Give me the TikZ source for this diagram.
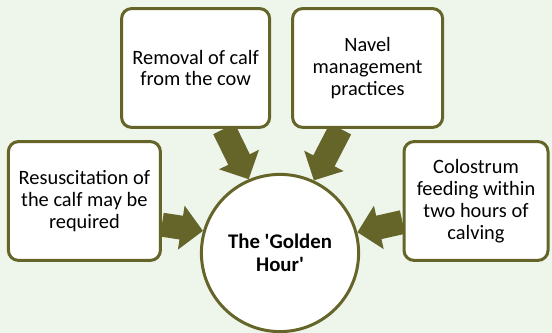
\documentclass[tikz,border=0pt]{standalone}
\usepackage{fontspec}
\setmainfont{Carlito}
\usepackage{tikz}
\usetikzlibrary{positioning, arrows.meta}
\definecolor{olivebar}{HTML}{65652A}
\definecolor{paleback}{HTML}{EEF6EC}
\pgfdeclarelayer{back}
\pgfsetlayers{back,main}

\begin{document}
\begin{tikzpicture}[
    stepbox/.style={rectangle, rounded corners=0.25cm, draw=olivebar, line width=0.075cm, fill=white, align=center, minimum height=2.97cm, font=\fontsize{14.5}{15.6}\selectfont},
    hub/.style={circle, draw=olivebar, line width=0.075cm, fill=white, align=center, minimum size=3.93cm, font=\fontsize{14.8}{16.4}\selectfont\bfseries},
    feed/.style={draw=olivebar, line width=0.6cm, -{Triangle[length=0.55cm, width=1.08cm]}}
]
\begin{pgfonlayer}{back}
\fill[paleback] (0, 0) rectangle (13.8, 8.325);
\end{pgfonlayer}
\useasboundingbox (0, 0) rectangle (13.8, 8.325);

\node[stepbox, minimum width=3.7cm] (removal) at (4.89, 6.625) {Removal of calf\\from the cow};
\node[stepbox, minimum width=3.75cm] (navel) at (9.19, 6.625) {Navel\\management\\practices};
\node[stepbox, minimum width=3.8cm] (resus) at (2.11, 3.3) {Resuscitation of\\the calf may be\\required};
\node[stepbox, minimum width=3.6cm] (colostrum) at (11.9, 3.3) {Colostrum\\feeding within\\two hours of\\calving};
\node[hub] (golden) at (7.0, 2.0) {The \textquotesingle Golden\\Hour\textquotesingle};

\begin{pgfonlayer}{back}
\draw[feed] (removal.-65) -- (golden.113);
\draw[feed] (navel.-114) -- (golden.65);
\draw[feed] (resus.-17) -- (golden.164);
\draw[feed] (colostrum.196) -- (golden.15);
\end{pgfonlayer}
\end{tikzpicture}
\end{document}
